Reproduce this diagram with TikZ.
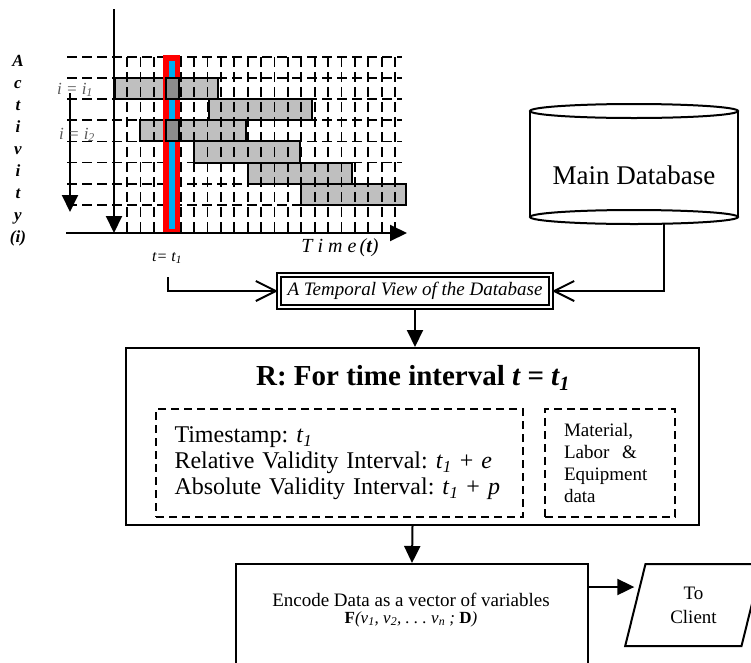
\documentclass[tikz,border=0pt]{standalone}
\usepackage{fontspec}
\setmainfont{Liberation Serif}
\usetikzlibrary{positioning,arrows.meta,shapes.geometric}
\frenchspacing

\begin{document}
\begin{tikzpicture}[x=1pt,y=-1pt,line width=2pt,
  box/.style={draw,line width=2pt,inner sep=0pt},
  dbox/.style={draw,line width=1.6pt,dash pattern=on 8pt off 5pt,inner sep=0pt},
  gridline/.style={line width=1.8pt,dash pattern=on 10pt off 5pt},
  bar/.style={draw,fill=black!25,line width=2pt},
  hit/.style={draw,fill=black!45,line width=2pt},
  lbl/.style={font=\fontsize{17}{20}\selectfont\itshape},
  >={Triangle[length=17pt,width=16pt]},
  open/.style={-{Straight Barb[length=20pt,width=20pt]}}
]
\useasboundingbox (0,0) rectangle (751,662);
\clip (0,0) rectangle (751,662);

% activity chart
\foreach \xa/\xb/\r in {115/218/0,209/312/1,140/246/2,194/300/3,248/352/4,301/406/5}
  \draw[bar] (\xa,{78.1+21.1*\r}) rectangle (\xb,{99.2+21.1*\r});
\foreach \k in {0,...,7}
  \draw[gridline] (67,{57+21.1*\k}) -- (402,{57+21.1*\k});
\foreach \k in {0,...,20}
  \draw[gridline] ({127+13.4*\k},57) -- ({127+13.4*\k},233);
\fill[red] (163,55) rectangle (180,233);
\fill[cyan] (169,61) rectangle (175,229);
\draw[hit] (166,78.1) rectangle (179,99.2);
\draw[hit] (166,120.3) rectangle (179,141.4);
\draw[->] (114,9) -- (114,233);
\draw[->] (66,233) -- (407,233);
\draw[->] (70,93) -- (70,212);

\node[align=center,font=\fontsize{17}{22}\selectfont\bfseries\itshape] (act) at (18,151)
  {A\\c\\t\\i\\v\\i\\t\\y\\(i)};
\node[lbl,text=black!65] (ione) at (75,90) {i = i\textsubscript{1}};
\node[lbl,text=black!65] (itwo) at (77,135) {i = i\textsubscript{2}};
\node[font=\fontsize{20}{24}\selectfont\itshape] (time) at (340,248) {T i m e\,(\textbf{t})};
\node[font=\fontsize{16}{18}\selectfont\itshape] (tlbl) at (167,258) {t= t\textsubscript{1}};
\coordinate (tmark) at (168,277);

% database
\draw (530,111) -- (530,217) (738,111) -- (738,217);
\draw (634,111) ellipse [x radius=104pt,y radius=7pt];
\draw (634,217) ellipse [x radius=104pt,y radius=7pt];
\node[font=\fontsize{27}{30}\selectfont] (db) at (634,175) {Main Database};
\coordinate (dbout) at (664,224);

\node[draw,double,double distance=2pt,minimum width=272pt,minimum height=32pt,inner sep=0pt,
  font=\fontsize{19}{22}\selectfont\itshape] (view) at (415,291) {A Temporal View of the Database};

\node[box,minimum width=573pt,minimum height=177pt] (rbox) at (412.5,436.5) {};
\node[font=\fontsize{29}{32}\selectfont\bfseries] (rtitle) at (413,378)
  {R: For time interval \textit{t = t\textsubscript{1}}};
\node[dbox,minimum width=367pt,minimum height=108pt,text width=330pt,align=left,
  font=\fontsize{24}{26}\selectfont] (stamp) at (339.5,463)
  {Timestamp: \textit{t}\textsubscript{\textit{1}}\\
   Relative Validity Interval: \textit{t}\textsubscript{\textit{1}} + \textit{e}\\
   Absolute Validity Interval: \textit{t}\textsubscript{\textit{1}} + \textit{p}};
\node[dbox,minimum width=130pt,minimum height=108pt,text width=92pt,align=left,
  font=\fontsize{19}{22}\selectfont] (mat) at (610,463) {Material,\\Labor \ \&\\Equipment\\data};

\node[box,minimum width=352pt,minimum height=140pt,anchor=north] (enc) at (412,563) {};
\node[align=center,font=\fontsize{19}{17}\selectfont] (enctxt) at (411,610)
  {Encode Data as a vector of variables\\
   {\fontsize{17}{17}\selectfont\textbf{F}\textit{(v\textsubscript{1}, v\textsubscript{2}, . . . v\textsubscript{n} ; }\textbf{D}\textit{)}}};
\node[trapezium,trapezium left angle=75,trapezium right angle=105,trapezium stretches=true,
  draw,minimum width=137pt,minimum height=82pt,inner sep=0pt,align=center,
  font=\fontsize{19}{24}\selectfont] (client) at (693.5,605) {To\\Client};
\coordinate (encout) at ([yshift=-24pt]enc.north east);

\draw[open] (tmark) |- (view.west);
\draw[open] (dbout) |- (view.east);
\draw[->] (view.south) -- (view.south |- rbox.north);
\draw[->] (rbox.south) -- (enc.north);
\draw[->] (encout) -- (encout -| client.west);
\end{tikzpicture}
\end{document}
